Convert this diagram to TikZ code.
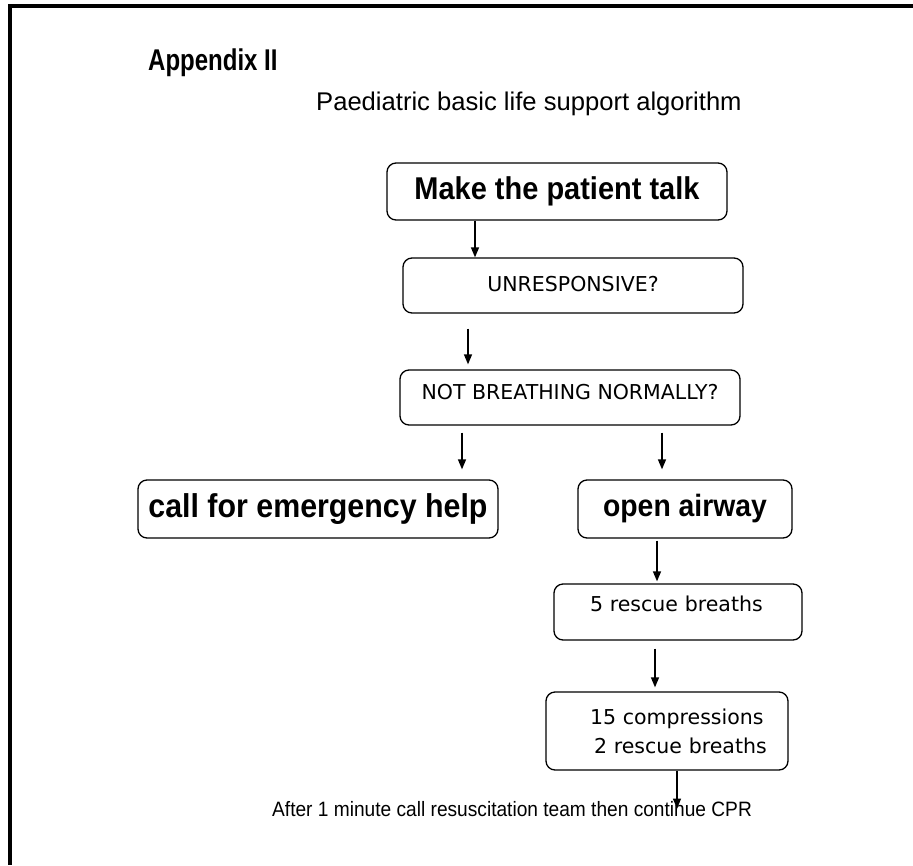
\documentclass[tikz,border=0pt]{standalone}
\usepackage{fontspec}
\setmainfont{Liberation Sans}
\newfontfamily\boxfont{DejaVu Sans}
\newfontfamily\narrowsans[FakeStretch=0.92]{Liberation Sans}
\newfontfamily\appfont[FakeStretch=0.8]{Liberation Sans}
\usetikzlibrary{arrows.meta}
\tikzset{
  box/.style={draw, line width=1.3pt, rounded corners=9pt, inner sep=0pt, align=center},
  arr/.style={line width=1.4pt, -{Triangle[length=10pt,width=8pt]}},
  smalltxt/.style={font=\boxfont\fontsize{20.5}{29}\selectfont},
}
\begin{document}
\begin{tikzpicture}[x=1pt,y=-1pt]
\useasboundingbox (0,0) rectangle (913,865);
% frame
\draw[line width=4pt] (8,6) -- (913,6);
\draw[line width=4pt] (10,4) -- (10,865);
% titles
\node[anchor=base west, inner sep=0pt, font=\appfont\fontsize{30}{33}\selectfont\bfseries] (title) at (148,70) {Appendix II};
\node[anchor=base west, inner sep=0pt, font=\fontsize{25.6}{28}\selectfont] (sub) at (316,110) {Paediatric basic life support algorithm};
% boxes
\node[box, font=\narrowsans\fontsize{31.5}{34}\selectfont\bfseries, minimum width=340pt, minimum height=57pt] (b1) at (557,191.5) {Make the patient talk};
\node[box, smalltxt, minimum width=340pt, text height=33pt, text depth=22pt] (b2) at (573,285.5) {UNRESPONSIVE?};
\node[box, smalltxt, minimum width=340pt, text height=29pt, text depth=26pt] (b3) at (570,397.5) {NOT BREATHING NORMALLY?};
\node[box, font=\narrowsans\fontsize{33}{36}\selectfont\bfseries, minimum width=360pt, minimum height=58pt] (b4) at (318,509) {call for emergency help};
\node[box, font=\narrowsans\fontsize{30.8}{34}\selectfont\bfseries, minimum width=214pt, minimum height=58pt] (b5) at (685,509) {open airway};
\node[box, smalltxt, align=left, text width=248pt, text height=27pt, text depth=29pt] (b6) at (678,612) {\hspace*{36pt}5 rescue breaths};
\node[box, smalltxt, align=left, text width=242pt, minimum height=78pt] (b7) at (667,731) {\hspace*{44pt}15 compressions\\\hspace*{48pt}2 rescue breaths};
% bottom text
\node[anchor=base west, inner sep=0pt, font=\narrowsans\fontsize{20.8}{24}\selectfont] (bot) at (272,816) {After 1 minute call resuscitation team then continue CPR};
% arrow x positions
\coordinate (x1) at (475,0);
\coordinate (x2) at (468,0);
\coordinate (x3) at (462,0);
\coordinate (x4) at (662,0);
\coordinate (x5) at (657,0);
\coordinate (x6) at (655,0);
\coordinate (x7) at (677,0);
\draw[arr] (b1.south -| x1) -- (b2.north -| x1);
\draw[arr, shorten <=15pt, shorten >=5pt] (b2.south -| x2) -- (b3.north -| x2);
\draw[arr, shorten <=7pt, shorten >=10pt] (b3.south -| x3) -- (b4.north -| x3);
\draw[arr, shorten <=7pt, shorten >=10pt] (b3.south -| x4) -- (b5.north -| x4);
\draw[arr, shorten <=2pt, shorten >=2pt] (b5.south -| x5) -- (b6.north -| x5);
\draw[arr, shorten <=8pt, shorten >=4pt] (b6.south -| x6) -- (b7.north -| x6);
\draw[arr] (b7.south -| x7) -- (x7 |- bot.center);
\end{tikzpicture}
\end{document}
